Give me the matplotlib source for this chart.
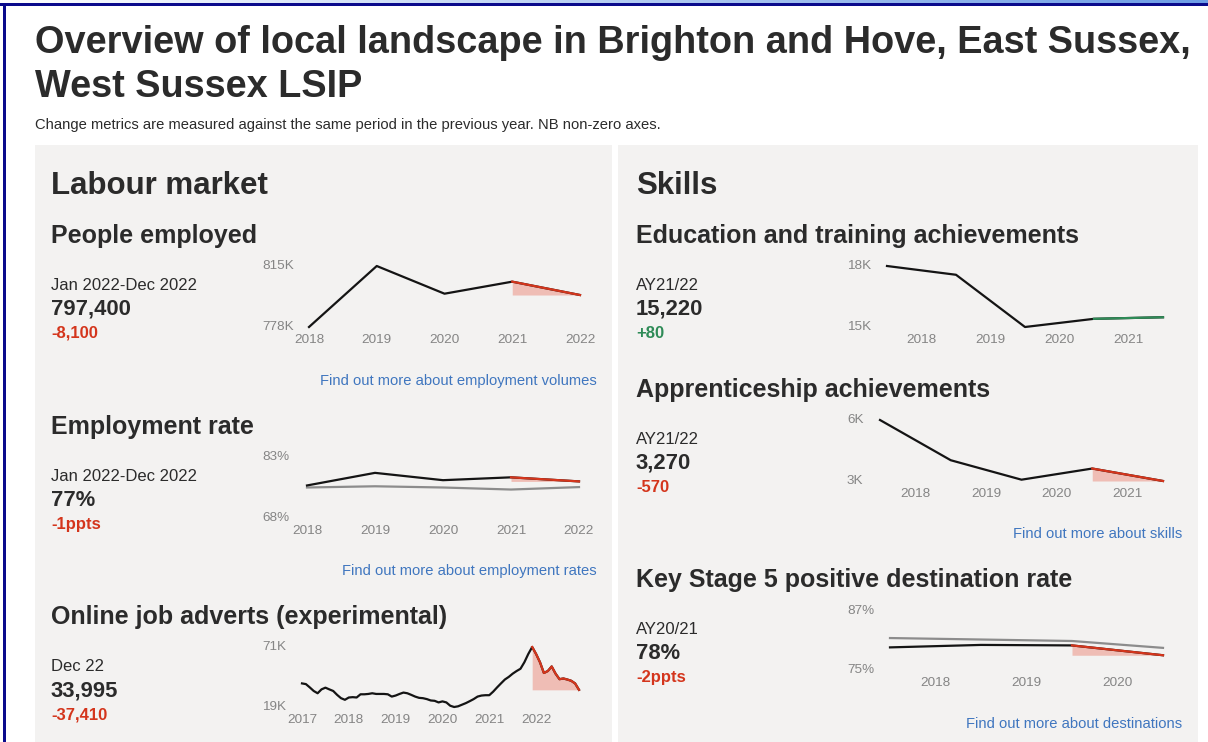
import numpy as np
import matplotlib.pyplot as plt
from matplotlib.patches import Rectangle
from matplotlib.colors import LinearSegmentedColormap
from matplotlib import transforms

plt.rcParams['font.family'] = ['Liberation Sans', 'DejaVu Sans']

W, H = 1208, 742

# ---- data ----
emp_years = [2018, 2019, 2020, 2021, 2022]
emp_values = [778.0, 815.0, 798.2, 805.5, 797.4]          # people employed, K

rate_years = [2018, 2019, 2020, 2021, 2022]
rate_local = [76.0, 79.1, 77.3, 78.0, 77.0]                # employment rate, %
rate_comp = [75.5, 75.8, 75.5, 75.0, 75.6]

advert_start = 2017                                       # monthly, Jan 2017 - Dec 2022, K
adverts = [39.6, 39.0, 36.1, 33.0, 31.0, 34.4, 35.9, 34.4, 33.0, 29.6, 26.7, 25.3,
           27.3, 27.6, 27.3, 30.1, 30.1, 30.4, 31.0, 30.4, 30.4, 30.4, 30.1, 28.1,
           29.0, 30.4, 31.6, 31.0, 29.6, 28.1, 27.0, 26.7, 25.9, 24.7, 24.4, 23.0,
           23.9, 23.0, 20.1, 19.0, 19.6, 21.0, 22.4, 24.1, 25.9, 28.1, 29.0, 29.3,
           29.3, 32.4, 36.1, 39.6, 43.0, 45.3, 48.1, 50.4, 52.4, 58.1, 65.3, 71.4,
           65.3, 58.1, 48.7, 50.4, 54.4, 48.1, 43.3, 43.9, 43.0, 41.9, 39.6, 34.0]
advert_years = [2017, 2018, 2019, 2020, 2021, 2022]

ay_x = [2017.5, 2018.5, 2019.5, 2020.5, 2021.5]           # AY17/18 .. AY21/22
edu_values = [17.85, 17.40, 14.72, 15.14, 15.22]          # K
app_values = [6.06, 4.22, 3.33, 3.84, 3.27]               # K
ay_ticks = [2018, 2019, 2020, 2021]

ks5_x = [2017.5, 2018.5, 2019.5, 2020.5]                  # AY17/18 .. AY20/21
ks5_local = [79.6, 80.1, 80.0, 78.0]
ks5_comp = [81.5, 81.2, 80.9, 79.5]
ks5_ticks = [2018, 2019, 2020]

DARK = '#2b2b2b'
RED = '#d4351c'
GREEN = '#2e8b57'
LINK = '#3f76bf'
TICK = '#858585'
PANEL = '#f3f2f1'

fig = plt.figure(figsize=(W / 100, H / 100), dpi=100)
bg = fig.add_axes([0, 0, 1, 1])
bg.set_xlim(0, W)
bg.set_ylim(H, 0)
bg.axis('off')

# window frame
grad = LinearSegmentedColormap.from_list('g', ['#ffffff', '#6d9de6'])
bg.imshow(np.linspace(0, 1, 256)[None, :], extent=[0, W, 3, 0], cmap=grad, aspect='auto')
bg.add_patch(Rectangle((0, 3), W, 3, color='#0a0a8c', lw=0))
bg.add_patch(Rectangle((3, 3), 3, H, color='#0a0a8c', lw=0))

# panels
bg.add_patch(Rectangle((35, 145), 577, H - 145, color=PANEL, lw=0))
bg.add_patch(Rectangle((618, 145), 580, H - 145, color=PANEL, lw=0))

bg.text(35, 53, 'Overview of local landscape in Brighton and Hove, East Sussex,',
        fontsize=27.3, fontweight='bold', color=DARK)
bg.text(35, 97, 'West Sussex LSIP', fontsize=27.3, fontweight='bold', color=DARK)
bg.text(35, 129, 'Change metrics are measured against the same period in the previous year. NB non-zero axes.',
        fontsize=10.6, color=DARK)

bg.text(51, 194, 'Labour market', fontsize=22.5, fontweight='bold', color=DARK)
bg.text(636, 194, 'Skills', fontsize=22.5, fontweight='bold', color=DARK)


def block(x, y, title, period, value, change, change_col):
    bg.text(x, y, title, fontsize=18, fontweight='bold', color=DARK)
    bg.text(x, y + 47, period, fontsize=12, color=DARK)
    bg.text(x, y + 72, value, fontsize=15.8, fontweight='bold', color=DARK)
    bg.text(x, y + 95, change, fontsize=12, fontweight='bold', color=change_col)


def link(x, y, s):
    bg.text(x, y, s, fontsize=10.6, color=LINK, ha='right')


def spark(box, x, y, ylim, ylabels, label_x, ticks, change_col, comp=None, n_recent=2):
    x0, x1, y0, y1 = box
    ax = fig.add_axes([x0 / W, 1 - y1 / H, (x1 - x0) / W, (y1 - y0) / H])
    ax.patch.set_visible(False)
    for s in ax.spines.values():
        s.set_visible(False)
    x = np.asarray(x, dtype=float)
    y = np.asarray(y, dtype=float)
    if comp is not None:
        ax.plot(x, comp, color='#8c8c8c', lw=1.6, clip_on=False)
    ax.plot(x, y, color='#141414', lw=1.6, clip_on=False)
    xr, yr = x[-n_recent:], y[-n_recent:]
    if change_col == RED:
        ax.fill_between(xr, yr, yr[-1], color='#efbdb5', lw=0)
    ax.plot(xr, yr, color=change_col, lw=1.6, clip_on=False)
    ax.set_xlim(x[0], x[-1])
    ax.set_ylim(*ylim)
    ax.set_yticks([])
    ax.set_xticks(ticks)
    ax.set_xticklabels([str(t) for t in ticks])
    ax.tick_params(axis='x', length=0, pad=5, labelsize=9.7, labelcolor=TICK)
    tr = transforms.blended_transform_factory(bg.transData, ax.transData)
    for v, s in zip(ylim, ylabels):
        ax.text(label_x, v, s, transform=tr, ha='left', va='center', fontsize=9.7, color=TICK)
    return ax


# Labour market
block(51, 243, 'People employed', 'Jan 2022-Dec 2022', '797,400', '-8,100', RED)
spark((309, 580, 266, 327), emp_years, emp_values, (778, 815), ('778K', '815K'), 262,
      emp_years, RED)
link(597, 385, 'Find out more about employment volumes')

block(51, 434, 'Employment rate', 'Jan 2022-Dec 2022', '77%', '-1ppts', RED)
spark((307, 579, 457, 518), rate_years, rate_local, (68, 83), ('68%', '83%'), 262,
      rate_years, RED, comp=rate_comp)
link(597, 575, 'Find out more about employment rates')

block(51, 624, 'Online job adverts (experimental)', 'Dec 22', '33,995', '-37,410', RED)
adv_x = advert_start + np.arange(len(adverts)) / 12
spark((302, 579, 647, 707), adv_x, adverts, (min(adverts), max(adverts)), ('19K', '71K'), 262,
      advert_years, RED, n_recent=13)

# Skills
block(636, 243, 'Education and training achievements', 'AY21/22', '15,220', '+80', GREEN)
spark((887, 1163, 266, 327), ay_x, edu_values, (min(edu_values), max(edu_values)),
      ('15K', '18K'), 847, ay_ticks, GREEN)

block(636, 397, 'Apprenticeship achievements', 'AY21/22', '3,270', '-570', RED)
spark((880, 1163, 420, 481), ay_x, app_values, (min(app_values), max(app_values)),
      ('3K', '6K'), 847, ay_ticks, RED)
link(1182, 538, 'Find out more about skills')

block(636, 587, 'Key Stage 5 positive destination rate', 'AY20/21', '78%', '-2ppts', RED)
spark((890, 1163, 611, 670), ks5_x, ks5_local, (75, 87), ('75%', '87%'), 847,
      ks5_ticks, RED, comp=ks5_comp)
link(1182, 728, 'Find out more about destinations')

fig.savefig('out.png', dpi=100)
